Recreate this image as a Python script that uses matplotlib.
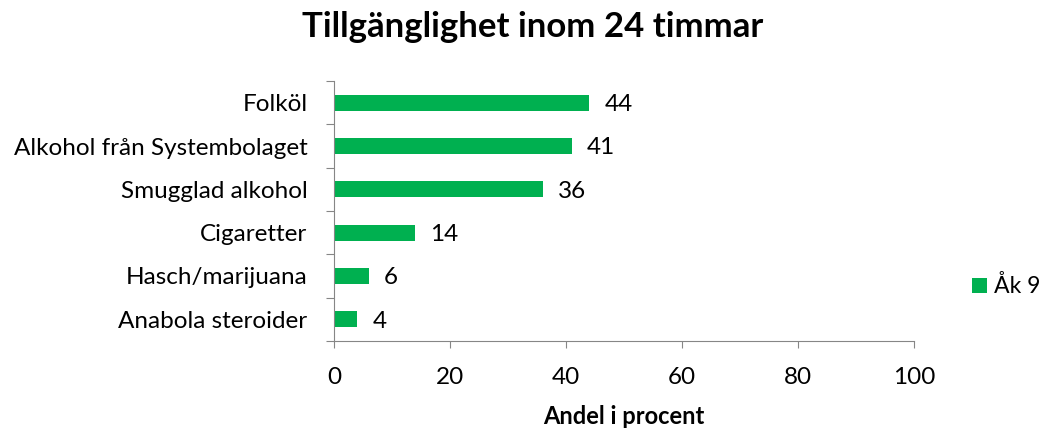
import matplotlib.pyplot as plt

categories = ["Folköl", "Alkohol från Systembolaget", "Smugglad alkohol",
              "Cigaretter", "Hasch/marijuana", "Anabola steroider"]
values = [44, 41, 36, 14, 6, 4]
xticks = [0, 20, 40, 60, 80, 100]

plt.rcParams["font.family"] = ["Lato", "DejaVu Sans"]
green = "#00B050"
grey = "#868686"
fs = 17.5

fig = plt.figure(figsize=(10.48, 4.28), dpi=100)
ax = fig.add_axes([0.3187, 0.2033, 0.5534, 0.6074])

ypos = list(range(len(categories)))[::-1]
ax.barh(ypos, values, height=0.37, color=green, label="Åk 9")
for y, v in zip(ypos, values):
    ax.text(v + 2.6, y - 0.04, str(v), va="center", ha="left", fontsize=fs)

ax.set_xlim(0, 100)
ax.set_ylim(-0.5, len(categories) - 0.5)
ax.set_xticks(xticks)
ax.set_yticks([i - 0.5 for i in range(len(categories) + 1)])
ax.set_yticklabels([])
ax.set_yticks(ypos, minor=True)
ax.set_yticklabels(categories, minor=True, fontsize=fs)
ax.tick_params(axis="y", which="minor", length=0, pad=19)
ax.tick_params(axis="y", which="major", length=6, color=grey, direction="out")
ax.tick_params(axis="x", length=5, color=grey, labelsize=fs, pad=14)

for side in ["top", "right"]:
    ax.spines[side].set_visible(False)
for side in ["left", "bottom"]:
    ax.spines[side].set_color(grey)

ax.set_xlabel("Andel i procent", fontsize=17, fontweight="bold", labelpad=12)
fig.suptitle("Tillgänglighet inom 24 timmar", fontsize=25, fontweight="bold", y=0.975, x=0.508)

ax.legend(loc="center left", bbox_to_anchor=(1.1, 0.21), frameon=False,
          fontsize=16.5, handlelength=0.65, handleheight=0.65, handletextpad=0.3,
          borderaxespad=0, borderpad=0)

fig.savefig("out.png", dpi=100)
